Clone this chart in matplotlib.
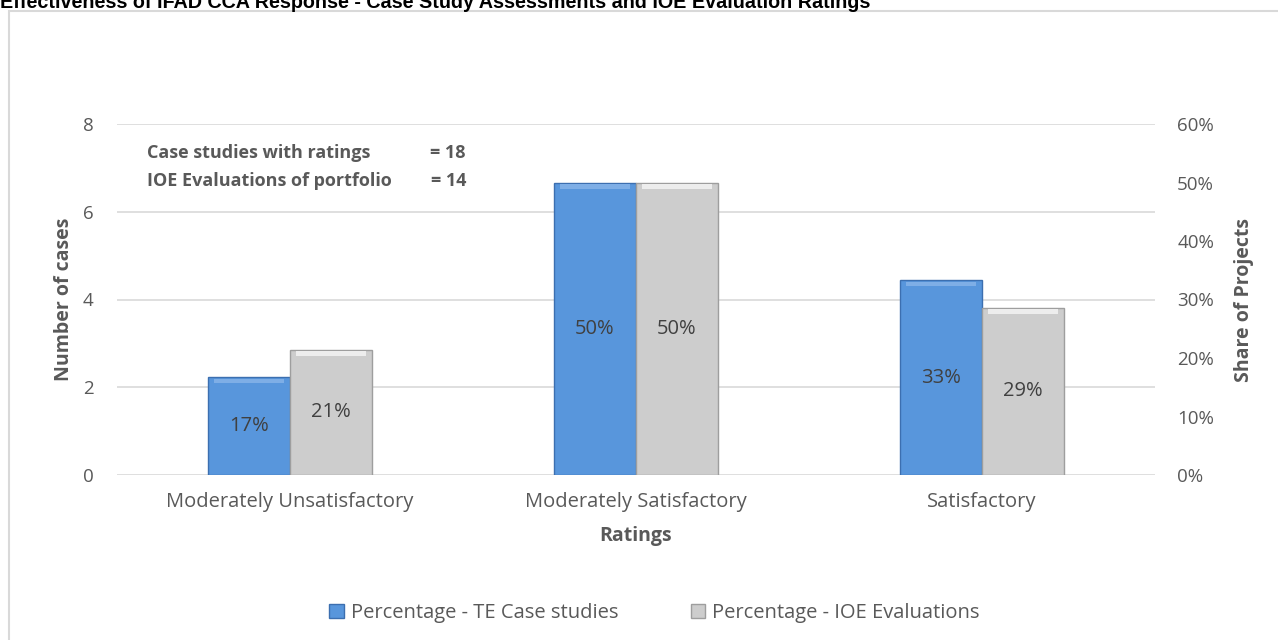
import matplotlib
matplotlib.use("Agg")
import matplotlib.pyplot as plt
from matplotlib.patches import Rectangle
import numpy as np

categories = ["Moderately Unsatisfactory", "Moderately Satisfactory", "Satisfactory"]
te_case_studies = [0.167, 0.50, 0.333]
ioe_evaluations = [0.214, 0.50, 0.286]
series_names = ["Percentage - TE Case studies", "Percentage - IOE Evaluations"]
left_ticks = [0, 2, 4, 6, 8]
right_ticks = [0, 0.1, 0.2, 0.3, 0.4, 0.5, 0.6]
title = "Effectiveness of IFAD CCA Response - Case Study Assessments and IOE Evaluation Ratings"
note_labels = ["Case studies with ratings", "IOE Evaluations of portfolio"]
note_values = ["= 18", "= 14"]

FONT = "Open Sans"
GREY_TXT = "#595959"
BLUE = "#5896DC"
BLUE_EDGE = "#3C6FB0"
BLUE_TOP = "#7EAEE6"
GREY = "#CDCDCD"
GREY_EDGE = "#9E9E9E"
GREY_TOP = "#EDEDED"

fig = plt.figure(figsize=(12.78, 6.4), dpi=100)

# outer chart border
fig.patches.append(Rectangle((9 / 1278, -0.1), 1.2, 1 - 11 / 640 + 0.1,
                             transform=fig.transFigure, fill=False,
                             edgecolor="#D9D9D9", linewidth=1.5))

fig.text(0.0, 1 - 8 / 640, title, family="Liberation Sans", fontweight="bold",
         fontsize=14.2, color="black", va="baseline", ha="left")

ax = fig.add_axes([117 / 1278, 1 - 475 / 640, (1155 - 117) / 1278, (475 - 124) / 640])
ax2 = ax.twinx()

ax.set_ylim(0, 8)
ax.set_yticks(left_ticks)
ax.set_yticklabels([str(t) for t in left_ticks], family=FONT, fontsize=13.5, color=GREY_TXT)
ax.grid(axis="y", color="#D9D9D9", linewidth=1.2)
ax.set_axisbelow(True)
ax.tick_params(axis="y", length=0, pad=17)
ax.tick_params(axis="x", length=0, pad=12)

x = np.arange(len(categories))
w = 0.237
ax.set_xlim(-0.5, len(categories) - 0.5)
ax.set_xticks(x)
ax.set_xticklabels(categories, family=FONT, fontsize=14.5, color=GREY_TXT)

ax2.set_ylim(0, 0.6)
ax2.set_yticks(right_ticks)
ax2.set_yticklabels([f"{int(round(t * 100))}%" for t in right_ticks], family=FONT,
                    fontsize=13.5, color=GREY_TXT)
ax2.tick_params(axis="y", length=0, pad=16)

for a in (ax, ax2):
    for s in a.spines.values():
        s.set_visible(False)

b1 = ax2.bar(x - w / 2, te_case_studies, width=w, color=BLUE, edgecolor=BLUE_EDGE,
             linewidth=1.0, zorder=3)
b2 = ax2.bar(x + w / 2, ioe_evaluations, width=w, color=GREY, edgecolor=GREY_EDGE,
             linewidth=1.0, zorder=3)
# bevel highlight at the top of each bar
band = 0.008
ax2.bar(x - w / 2, [band] * len(x), bottom=np.array(te_case_studies) - band * 1.3, width=w * 0.86,
        color=BLUE_TOP, linewidth=0, zorder=4)
ax2.bar(x + w / 2, [band] * len(x), bottom=np.array(ioe_evaluations) - band * 1.3, width=w * 0.86,
        color=GREY_TOP, linewidth=0, zorder=4)

for xs, vals in ((x - w / 2, te_case_studies), (x + w / 2, ioe_evaluations)):
    for xi, v in zip(xs, vals):
        ax2.text(xi, v / 2, f"{int(round(v * 100))}%", ha="center", va="center",
                 family=FONT, fontsize=14.5, color="#404040", zorder=5)

ax.set_ylabel("Number of cases", family=FONT, fontsize=14, fontweight="bold",
              color=GREY_TXT, labelpad=6)
ax2.set_ylabel("Share of Projects", family=FONT, fontsize=14, fontweight="bold",
               color=GREY_TXT, labelpad=14)
ax.set_xlabel("Ratings", family=FONT, fontsize=14, fontweight="bold", color=GREY_TXT,
              labelpad=10)

# note text
for i, (lab, val) in enumerate(zip(note_labels, note_values)):
    y = 1 - (153 + 28 * i) / 640
    fig.text(147 / 1278, y, lab, family=FONT, fontsize=13, fontweight="bold",
             color=GREY_TXT, va="center", ha="left")
    fig.text(466 / 1278, y, val, family=FONT, fontsize=13, fontweight="bold",
             color=GREY_TXT, va="center", ha="right")

leg = fig.legend([b1, b2], series_names, loc="center", bbox_to_anchor=(0.512, 1 - 613 / 640),
                 ncol=2, frameon=False, handlelength=0.7, handleheight=0.7,
                 handletextpad=0.35, columnspacing=3.6,
                 prop={"family": FONT, "size": 14.5})
for t in leg.get_texts():
    t.set_color(GREY_TXT)

fig.savefig("out.png", dpi=100)
